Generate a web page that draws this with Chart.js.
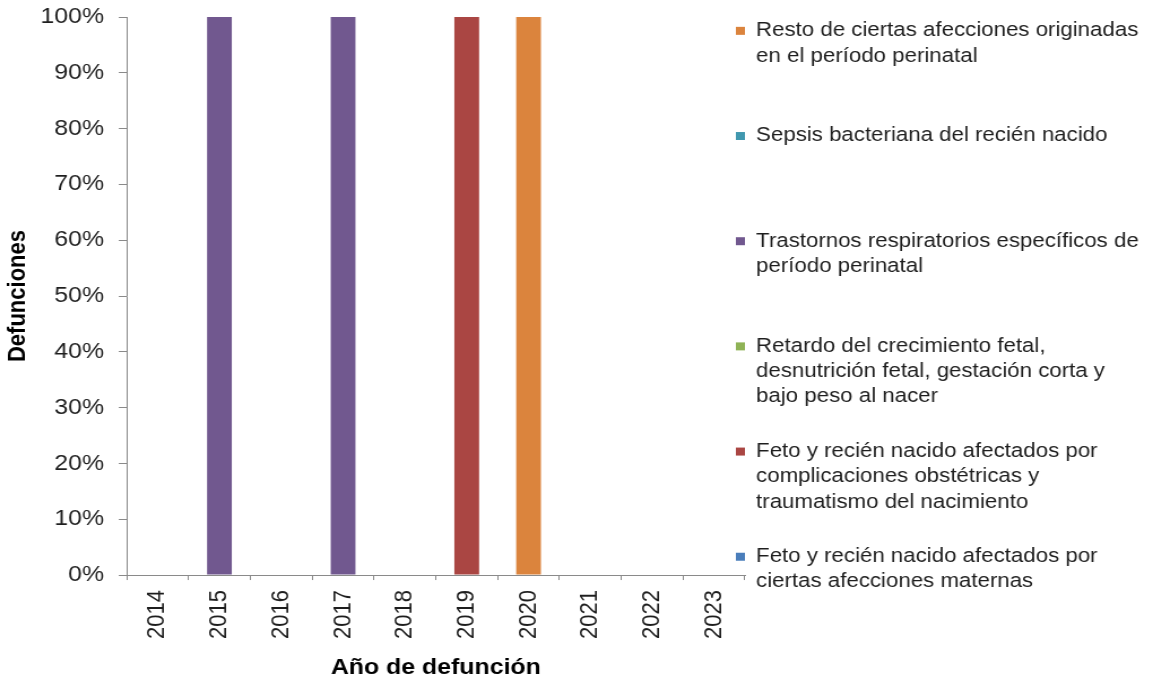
<!DOCTYPE html>
<html>
<head>
<meta charset="utf-8">
<script src="https://cdn.jsdelivr.net/npm/chart.js@4"></script>
<style>
  html, body { margin: 0; padding: 0; background: #ffffff; overflow: hidden; }
  #wrap { position: absolute; left: 0; top: 0; width: 1020px; height: 680px; transform: scaleX(1.1304); transform-origin: 0 0; }
</style>
</head>
<body>
<div id="wrap"><canvas id="c"></canvas></div>
<script>
// ---- data ----
const years = ['2014', '2015', '2016', '2017', '2018', '2019', '2020', '2021', '2022', '2023'];

// share of deaths (%) per year and cause
const valMaternas       = [0, 0, 0, 0, 0, 0, 0, 0, 0, 0];
const valComplicaciones = [0, 0, 0, 0, 0, 100, 0, 0, 0, 0];
const valRetardo        = [0, 0, 0, 0, 0, 0, 0, 0, 0, 0];
const valTrastornos     = [0, 100, 0, 100, 0, 0, 0, 0, 0, 0];
const valSepsis         = [0, 0, 0, 0, 0, 0, 0, 0, 0, 0];
const valResto          = [0, 0, 0, 0, 0, 0, 100, 0, 0, 0];

const nameMaternas       = ['Feto y recién nacido afectados por', 'ciertas afecciones maternas'];
const nameComplicaciones = ['Feto y recién nacido afectados por', 'complicaciones obstétricas y', 'traumatismo del nacimiento'];
const nameRetardo        = ['Retardo del crecimiento fetal,', 'desnutrición fetal, gestación corta y', 'bajo peso al nacer'];
const nameTrastornos     = ['Trastornos respiratorios específicos del', 'período perinatal'];
const nameSepsis         = ['Sepsis bacteriana del recién nacido'];
const nameResto          = ['Resto de ciertas afecciones originadas', 'en el período perinatal'];

const yTickValues = [0, 10, 20, 30, 40, 50, 60, 70, 80, 90, 100];

const colMaternas = '#4A7EBB';
const colComplicaciones = '#AA4643';
const colRetardo = '#8FB356';
const colTrastornos = '#71588F';
const colSepsis = '#4198AF';
const colResto = '#DB843D';

// ---- chart ----
const FONT = "'Liberation Sans', Arial, sans-serif";
const AXIS = '#8a8a8a';
const TXT = '#1e1e1e';

function ds(names, data, color) {
  return { label: names.join(' '), lines: names, data: data, backgroundColor: color, borderWidth: 0,
           barPercentage: 0.4, categoryPercentage: 1.0 };
}

const shiftLegend = {
  id: 'shiftLegend',
  afterLayout(chart) {
    if (chart.legend) { chart.legend.left -= 12; chart.legend.right -= 12; }
  }
};

new Chart(document.getElementById('c'), {
  type: 'bar',
  data: {
    labels: years,
    datasets: [
      ds(nameMaternas, valMaternas, colMaternas),
      ds(nameComplicaciones, valComplicaciones, colComplicaciones),
      ds(nameRetardo, valRetardo, colRetardo),
      ds(nameTrastornos, valTrastornos, colTrastornos),
      ds(nameSepsis, valSepsis, colSepsis),
      ds(nameResto, valResto, colResto)
    ]
  },
  plugins: [shiftLegend],
  options: {
    responsive: true,
    maintainAspectRatio: false,
    animation: false,
    layout: { padding: { top: 17, left: 2, right: 0, bottom: 0 } },
    plugins: {
      tooltip: { enabled: false },
      legend: {
        display: true,
        position: 'right',
        align: 'start',
        reverse: true,
        maxWidth: 361,
        labels: {
          color: TXT,
          font: { family: FONT, size: 19.7, lineHeight: 1.284 },
          boxWidth: 8,
          boxHeight: 8,
          padding: 4,
          generateLabels(chart) {
            const items = Chart.defaults.plugins.legend.labels.generateLabels(chart);
            return items.map(it => {
              const lines = chart.data.datasets[it.datasetIndex].lines.slice();
              while (lines.length < 4) lines.push('');
              it.text = lines;
              it.lineWidth = 0;
              it.strokeStyle = 'rgba(0,0,0,0)';
              return it;
            });
          }
        }
      }
    },
    scales: {
      x: {
        stacked: true,
        offset: true,
        grid: { display: true, drawOnChartArea: false, drawTicks: true, tickLength: 5, offset: true, color: AXIS },
        border: { display: true, color: AXIS, width: 1 },
        ticks: { color: TXT, font: { family: FONT, size: 22 }, minRotation: 90, maxRotation: 90, padding: 10, autoSkip: false },
        title: { display: true, text: 'Año de defunción', color: '#000', font: { family: FONT, size: 22, weight: 'bold', lineHeight: 1.0 }, padding: { top: 8, bottom: 1 } }
      },
      y: {
        stacked: true,
        min: 0,
        max: 100,
        afterBuildTicks(scale) { scale.ticks = yTickValues.map(v => ({ value: v })); },
        grid: { display: true, drawOnChartArea: false, drawTicks: true, tickLength: 7, color: AXIS },
        border: { display: true, color: AXIS, width: 1 },
        ticks: { color: TXT, font: { family: FONT, size: 22, lineHeight: 0.3 }, padding: 13, callback: v => v + '%' },
        title: { display: true, text: 'Defunciones', color: '#000', font: { family: FONT, size: 22, weight: 'bold', lineHeight: 0.6 }, padding: { top: 7.6, bottom: 0 } }
      }
    }
  }
});
</script>
</body>
</html>
